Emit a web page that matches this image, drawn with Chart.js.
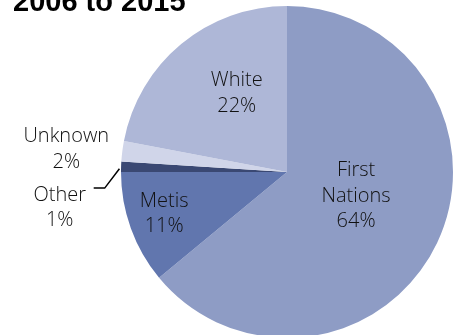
<!DOCTYPE html>
<html lang="en">
<head>
    <meta charset="UTF-8">
    <title>2006 to 2015</title>
    <script src="https://cdn.jsdelivr.net/npm/chart.js@4.4.1/dist/chart.umd.min.js"></script>
    <style>
        html, body { margin: 0; padding: 0; background: #fff; overflow: hidden; }
        #wrap { position: relative; width: 460px; height: 335px; overflow: hidden; }
        canvas { display: block; }
    </style>
</head>
<body>
    <div id="wrap">
        <canvas id="pie" width="460" height="345"></canvas>
    </div>

    <script>
        // Data
        const titleText = '2006 to 2015';
        const categories = ['First Nations', 'Metis', 'Other', 'Unknown', 'White'];
        const shares = [64, 11, 1, 2, 22];
        const sliceColors = ['#8e9cc5', '#6176ae', '#3a4873', '#d0d5e9', '#aeb7d7'];

        // label placement: fraction of radius along the mid angle, plus a pixel nudge
        const labelPlacement = [
            { f: 0.44, dx: 3, dy: -7 },
            { f: 0.78, dx: -1, dy: -2 },
            { f: 1.37, dx: 0, dy: 43, leader: true },
            { f: 1.34, dx: 0, dy: 5 },
            { f: 0.56, dx: 9, dy: -7 }
        ];

        const total = shares.reduce((a, b) => a + b, 0);

        const sliceLabels = {
            id: 'sliceLabels',
            afterDraw(chart) {
                const ctx = chart.ctx;
                const arcs = chart.getDatasetMeta(0).data;
                ctx.save();

                // title (top of it is cut off in the reference)
                ctx.fillStyle = '#000';
                ctx.font = 'bold 29px "Liberation Sans", Arial, sans-serif';
                ctx.textAlign = 'left';
                ctx.textBaseline = 'alphabetic';
                ctx.fillText(titleText, 13, 11);

                ctx.font = '300 20px "Open Sans", sans-serif';
                ctx.textAlign = 'center';
                ctx.textBaseline = 'middle';
                const lineH = 25.5;

                arcs.forEach((arc, i) => {
                    const p = labelPlacement[i];
                    const mid = (arc.startAngle + arc.endAngle) / 2;
                    const r = arc.outerRadius;
                    const x = arc.x + Math.cos(mid) * r * p.f + p.dx;
                    const y = arc.y + Math.sin(mid) * r * p.f + p.dy;
                    const pct = Math.round(shares[i] / total * 100) + '%';
                    const lines = categories[i].split(' ').concat([pct]);
                    const top = y - (lines.length - 1) * lineH / 2;
                    ctx.fillStyle = '#111';
                    lines.forEach((t, k) => ctx.fillText(t, x, top + k * lineH));

                    if (p.leader) {
                        const ex = arc.x + Math.cos(mid) * r * 1.01;
                        const ey = arc.y + Math.sin(mid) * r * 1.01 + 2;
                        ctx.strokeStyle = '#000';
                        ctx.lineWidth = 1.5;
                        ctx.beginPath();
                        ctx.moveTo(ex, ey);
                        ctx.lineTo(x + 45, top - 7);
                        ctx.lineTo(x + 34, top - 7);
                        ctx.stroke();
                    }
                });
                ctx.restore();
            }
        };

        new Chart(document.getElementById('pie'), {
            type: 'pie',
            data: {
                labels: categories,
                datasets: [{
                    data: shares,
                    backgroundColor: sliceColors,
                    borderWidth: 0
                }]
            },
            options: {
                responsive: false,
                animation: false,
                layout: { padding: { left: 121, right: 7, top: 6, bottom: 7 } },
                plugins: {
                    legend: { display: false },
                    tooltip: { enabled: false },
                    title: { display: false }
                }
            },
            plugins: [sliceLabels]
        });
    </script>
</body>
</html>
